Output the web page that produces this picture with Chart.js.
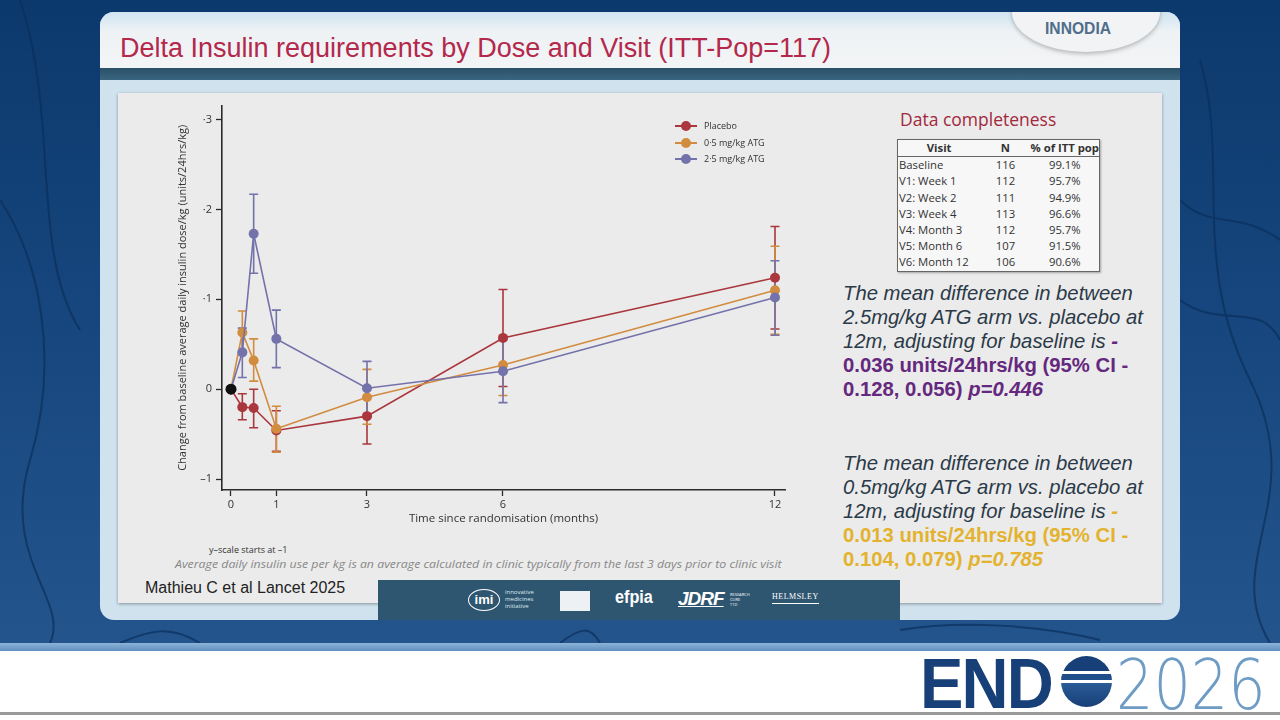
<!DOCTYPE html>
<html>
<head>
<meta charset="utf-8">
<script src="https://cdn.jsdelivr.net/npm/chart.js@4/dist/chart.umd.min.js"></script>
<style>
  html, body { margin: 0; padding: 0; width: 1280px; height: 720px; overflow: hidden; background: #fff; font-family: "Liberation Sans", Arial, sans-serif; }
  .abs { position: absolute; }
  #bg { left: 0; top: 0; width: 1280px; height: 643px; background: linear-gradient(180deg, #0c396d 0%, #15457c 45%, #24548c 100%); overflow: hidden; }
  #stripe { left: 0; top: 643px; width: 1280px; height: 8px; background: linear-gradient(180deg, #8db3d8, #5f8fc0); }
  #bottomline { left: 0; top: 712px; width: 1280px; height: 3px; background: #9a9a9a; }
  #panel { left: 100px; top: 12px; width: 1080px; height: 608px; border-radius: 14px; background: #cfe2ee; overflow: hidden; }
  #header { left: 0; top: 0; width: 1080px; height: 56px; background: linear-gradient(180deg, #cfe4f0 0%, #eef2f5 35%, #f3f4f5 100%); }
  #darkbar { left: 0; top: 56px; width: 1080px; height: 12px; background: linear-gradient(180deg, #2a5068, #3a6580); }
  #title { left: 20px; top: 21px; font-family: "Liberation Sans", sans-serif; font-size: 27px; color: #b3284b; white-space: nowrap; }
  #tab { left: 912px; top: -40px; width: 148px; height: 80px; border-radius: 50%; background: #f2f3f4; box-shadow: 0 2px 4px rgba(0,0,0,0.25); }
  #tabtext { left: 945px; top: 7px; font-size: 17px; font-weight: bold; color: #4f6e8a; transform: scaleX(0.92); transform-origin: left; }
  #inner { left: 118px; top: 93px; width: 1044px; height: 510px; background: #ebebeb; box-shadow: 0 1px 3px rgba(0,0,0,0.35); }
  #chartbox { left: 170px; top: 95px; width: 630px; height: 440px; }
  .leg { font-family: "Open Sans", sans-serif; font-size: 9px; color: #333; height: 12px; line-height: 12px; }
  .leg .ln { position: absolute; left: 0; top: 5px; width: 22px; height: 2px; }
  .leg .dt { position: absolute; left: 6px; top: 1px; width: 10px; height: 10px; border-radius: 50%; }
  .leg .tx { position: absolute; left: 29px; top: 0; white-space: nowrap; }
  #dctitle { left: 900px; top: 107px; font-family: "Open Sans", sans-serif; font-size: 17.5px; color: #a2283c; }
  table#dc { position: absolute; left: 897px; top: 139px; width: 203px; border-collapse: collapse; border: 1px solid #666; background: #f7f7f7; font-family: "Open Sans", sans-serif; font-size: 11.3px; color: #333; box-shadow: 1px 1px 2px rgba(0,0,0,0.3); }
  table#dc td, table#dc th { padding: 0; height: 16.2px; line-height: 16px; white-space: nowrap; }
  table#dc th { font-weight: bold; border-bottom: 1px solid #666; text-align: center; }
  table#dc td.v { text-align: left; padding-left: 1px; }
  table#dc td.c { text-align: center; }
  .note { font-family: "Liberation Sans", sans-serif; font-size: 20.3px; font-style: italic; line-height: 24px; color: #2b3a48; white-space: nowrap; }
  .note b.p { color: #64287e; }
  .note b.o { color: #e3b330; }
  #ynote { left: 209px; top: 543px; font-family: "Open Sans", sans-serif; font-size: 9px; color: #333; }
  #avgnote { left: 175px; top: 556px; font-family: "Open Sans", sans-serif; font-size: 11px; font-style: italic; color: #888; white-space: nowrap; transform: scaleX(1.12); transform-origin: left; }
  #cite { left: 145px; top: 579px; font-family: "Liberation Sans", sans-serif; font-size: 16px; color: #222; }
  #logobar { left: 378px; top: 580px; width: 522px; height: 40px; background: #2f5670; color: #fff; }
  #endo { left: 920px; top: 644px; height: 70px; }
</style>
</head>
<body>
<div id="bg" class="abs">
  <svg width="1280" height="643" style="position:absolute;left:0;top:0" fill="none" stroke="#0a2f5c" stroke-width="2" opacity="0.7">
    <path d="M0 200 C 40 260, 60 360, 30 460 S 70 600, 50 643"/>
    <path d="M20 0 C 60 120, 30 250, 80 330"/>
    <path d="M1200 60 C 1230 160, 1190 260, 1250 380 S 1220 560, 1270 643"/>
    <path d="M1180 300 C 1220 330, 1260 300, 1280 340"/>
    <path d="M120 643 C 150 630, 170 625, 200 643"/>
    <path d="M560 643 C 580 628, 590 625, 600 643"/>
    <path d="M900 630 C 960 620, 1040 625, 1100 640"/>
    <path d="M1180 200 C 1210 230, 1240 210, 1280 240"/>
  </svg>
</div>
<div id="stripe" class="abs"></div>
<div id="bottomline" class="abs"></div>

<div id="panel" class="abs">
  <div id="header" class="abs"></div>
  <div id="darkbar" class="abs"></div>
  <div id="tab" class="abs"></div>
  <div id="tabtext" class="abs">INNODIA</div>
  <div id="title" class="abs">Delta Insulin requirements by Dose and Visit (ITT-Pop=117)</div>
</div>

<div id="inner" class="abs"></div>

<div id="chartbox" class="abs"><canvas id="chart"></canvas></div>

<div id="legend"></div>

<div id="dctitle" class="abs">Data completeness</div>
<table id="dc"></table>

<div class="abs note" style="left:843px;top:281px;">
  The mean difference in between<br>
  2.5mg/kg ATG arm vs. placebo at<br>
  12m, adjusting for baseline is <b class="p">-</b><br>
  <b class="p" style="font-style:normal">0.036 units/24hrs/kg (95% CI -</b><br>
  <b class="p"><span style="font-style:normal">0.128, 0.056)</span> p=0.446</b>
</div>
<div class="abs note" style="left:843px;top:451px;">
  The mean difference in between<br>
  0.5mg/kg ATG arm vs. placebo at<br>
  12m, adjusting for baseline is <b class="o">-</b><br>
  <b class="o" style="font-style:normal">0.013 units/24hrs/kg (95% CI -</b><br>
  <b class="o"><span style="font-style:normal">0.104, 0.079)</span> p=0.785</b>
</div>

<div id="ynote" class="abs">y–scale starts at –1</div>
<div id="avgnote" class="abs">Average daily insulin use per kg is an average calculated in clinic typically from the last 3 days prior to clinic visit</div>
<div id="cite" class="abs">Mathieu C et al Lancet 2025</div>

<div id="logobar" class="abs">
  <div class="abs" style="left:90px;top:9px;width:30px;height:20px;border:1.5px solid #fff;border-radius:50%;font:bold 13px 'Liberation Sans';text-align:center;line-height:20px;">imi</div>
  <div class="abs" style="left:127px;top:9px;font:6px 'Open Sans';line-height:7px;color:#dfe8ee;">innovative<br>medicines<br>initiative</div>
  <div class="abs" style="left:182px;top:11px;width:30px;height:20px;background:#eef1f3;"></div>
  <div class="abs" style="left:237px;top:7px;font:bold 18px 'Liberation Sans';transform:scaleX(0.9);transform-origin:left;">efpia</div>
  <div class="abs" style="left:300px;top:8px;font:italic bold 19px 'Liberation Sans';letter-spacing:-1px;text-decoration:underline;">JDRF</div>
  <div class="abs" style="left:352px;top:12px;font:4px 'Open Sans';line-height:5px;">RESEARCH<br>CURE<br>T1D</div>
  <div class="abs" style="left:394px;top:12px;font:8px 'Liberation Serif';letter-spacing:0.5px;border-bottom:1.5px solid #fff;padding-bottom:2px;">HELMSLEY</div>
</div>

<div id="endo" class="abs">
  <span class="abs" style="left:0;top:0;font:bold 70px 'Liberation Sans';color:#173f78;letter-spacing:-2px;transform:scaleX(0.93);transform-origin:left;">END</span>
  <div class="abs" style="left:141px;top:12px;width:51px;height:51px;border-radius:50%;background:linear-gradient(180deg,#173f78 0,#173f78 30%,#fff 30%,#fff 35%,#1f4e8a 35%,#1f4e8a 48%,#fff 48%,#fff 53%,#2a5b96 53%,#183f77 100%);"></div>
  <span class="abs" style="left:196px;top:0;font:200 70px 'DejaVu Sans','Lato',sans-serif;color:#6f9cc4;transform:scaleX(0.84);transform-origin:left;">2026</span>
</div>

<script>
// time since randomisation (months): baseline, week 1, week 2, week 4, month 3, 6, 12
const months = [0, 0.25, 0.5, 1, 3, 6, 12];

const placebo   = [0, -0.020, -0.021, -0.046, -0.030, 0.057, 0.124];
const placeboLo = [null, -0.034, -0.043, -0.069, -0.061, 0.003, 0.067];
const placeboHi = [null, -0.005, 0.000, -0.024, 0.001, 0.111, 0.181];

const atgLow   = [0, 0.063, 0.032, -0.044, -0.009, 0.027, 0.110];
const atgLowLo = [null, 0.039, 0.009, -0.070, -0.039, -0.007, 0.061];
const atgLowHi = [null, 0.087, 0.056, -0.019, 0.022, 0.060, 0.159];

const atgHigh   = [0, 0.041, 0.173, 0.056, 0.001, 0.020, 0.102];
const atgHighLo = [null, 0.013, 0.129, 0.024, -0.029, -0.015, 0.060];
const atgHighHi = [null, 0.068, 0.217, 0.088, 0.031, 0.055, 0.143];

const seriesNames = ['Placebo', '0·5 mg/kg ATG', '2·5 mg/kg ATG'];

const xTicks = [0, 1, 3, 6, 12];
const yTicks = [-0.1, 0, 0.1, 0.2, 0.3];
const yTickLabels = ['–1', '0', '·1', '·2', '·3'];

const visits = ['Baseline', 'V1: Week 1', 'V2: Week 2', 'V3: Week 4', 'V4: Month 3', 'V5: Month 6', 'V6: Month 12'];
const visitN = [116, 112, 111, 113, 112, 107, 106];
const visitPct = ['99.1%', '95.7%', '94.9%', '96.6%', '95.7%', '91.5%', '90.6%'];

const SERIES = [
  { name: seriesNames[0], mean: placebo, lo: placeboLo, hi: placeboHi, color: '#a9373d' },
  { name: seriesNames[1], mean: atgLow,  lo: atgLowLo,  hi: atgLowHi,  color: '#d18c3f' },
  { name: seriesNames[2], mean: atgHigh, lo: atgHighLo, hi: atgHighHi, color: '#7472aa' },
];

// completeness table
const dc = document.getElementById('dc');
dc.innerHTML = '<tr><th style="width:83px">Visit</th><th style="width:52px">N</th><th>% of ITT pop</th></tr>' +
  visits.map((v, i) => `<tr><td class="v">${v}</td><td class="c">${visitN[i]}</td><td class="c">${visitPct[i]}</td></tr>`).join('');

// legend
document.getElementById('legend').innerHTML = SERIES.map((s, i) => `
  <div class="abs leg" style="left:675px;top:${120 + i * 16.5}px;width:110px;">
    <span class="ln" style="background:${s.color}"></span>
    <span class="dt" style="background:${s.color}"></span>
    <span class="tx">${s.name}</span>
  </div>`).join('');

// vertical CI bars with caps, drawn under the lines
const errorBars = {
  id: 'errorBars',
  beforeDatasetsDraw(chart) {
    const { ctx, scales: { x, y } } = chart;
    SERIES.forEach(s => {
      ctx.save();
      ctx.strokeStyle = s.color;
      ctx.lineWidth = 1.6;
      months.forEach((m, i) => {
        if (s.lo[i] == null) return;
        const px = x.getPixelForValue(m);
        const yl = y.getPixelForValue(s.lo[i]);
        const yh = y.getPixelForValue(s.hi[i]);
        ctx.beginPath();
        ctx.moveTo(px, yl); ctx.lineTo(px, yh);
        ctx.moveTo(px - 4.5, yl); ctx.lineTo(px + 4.5, yl);
        ctx.moveTo(px - 4.5, yh); ctx.lineTo(px + 4.5, yh);
        ctx.stroke();
      });
      ctx.restore();
    });
  }
};

const datasets = SERIES.map((s, k) => ({
  label: s.name,
  data: months.map((m, i) => ({ x: m, y: s.mean[i] })),
  borderColor: s.color,
  backgroundColor: s.color,
  borderWidth: 1.6,
  pointRadius: 5,
  pointBorderWidth: 0,
  pointBackgroundColor: s.color,
  order: 3 - k,
}));
datasets.push({
  label: 'Baseline',
  data: [{ x: months[0], y: 0 }],
  showLine: false,
  pointRadius: 5.5,
  pointBorderWidth: 0,
  pointBackgroundColor: '#111',
  order: 0,
});

const axisFont = { family: 'Open Sans', size: 11 };

new Chart(document.getElementById('chart'), {
  type: 'line',
  data: { datasets },
  options: {
    responsive: true,
    maintainAspectRatio: false,
    animation: false,
    layout: { padding: { left: 0, top: 10, right: 15, bottom: 5 } },
    plugins: { legend: { display: false }, tooltip: { enabled: false } },
    scales: {
      x: {
        type: 'linear',
        min: -0.1985,
        max: 12.2206,
        afterBuildTicks: sc => { sc.ticks = xTicks.map(v => ({ value: v })); },
        afterFit: sc => { sc.height = 40; },
        ticks: { font: axisFont, color: '#333', padding: 2, maxRotation: 0 },
        grid: { drawOnChartArea: false, drawTicks: true, tickLength: 6, color: '#2a2a2a', tickWidth: 1.3 },
        border: { color: '#2a2a2a', width: 1.6 },
        title: { display: true, text: 'Time since randomisation (months)', font: { family: 'Open Sans', size: 11.5 }, color: '#333', padding: { top: 0, bottom: 4 } },
      },
      y: {
        min: -0.1122,
        max: 0.3156,
        afterBuildTicks: sc => { sc.ticks = yTicks.map(v => ({ value: v })); },
        afterFit: sc => { sc.width = 52; },
        ticks: {
          font: axisFont, color: '#333', padding: 4,
          callback: v => yTickLabels[yTicks.findIndex(t => Math.abs(t - v) < 1e-9)],
        },
        grid: { drawOnChartArea: false, drawTicks: true, tickLength: 6, color: '#2a2a2a', tickWidth: 1.3 },
        border: { color: '#2a2a2a', width: 1.6 },
        title: { display: true, text: 'Change from baseline average daily insulin dose/kg (units/24hrs/kg)', font: { family: 'Open Sans', size: 11 }, color: '#333', padding: { top: 6, bottom: 0 } },
      },
    },
  },
  plugins: [errorBars],
});
</script>
</body>
</html>
